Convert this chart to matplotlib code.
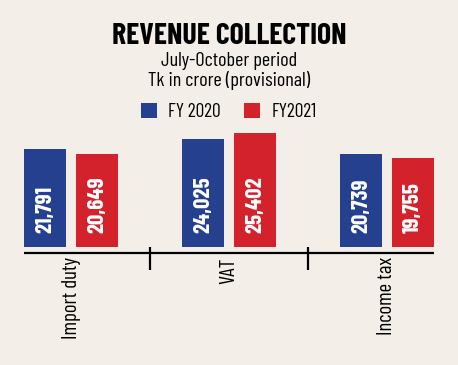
import matplotlib.pyplot as plt
import numpy as np

# data
categories = ["Import duty", "VAT", "Income tax"]
fy2020 = [21791, 24025, 20739]
fy2021 = [20649, 25402, 19755]
series_names = ["FY 2020", "FY2021"]

blue = "#24408f"
red = "#d3222c"
bg = "#f3efe8"
narrow = ["Barlow Condensed", "DejaVu Sans"]
st = "condensed"

W, H = 458, 365
fig = plt.figure(figsize=(W / 100, H / 100), dpi=100, facecolor=bg)

# axes placed in pixel terms: x 24..434, y 125..275
px = 1 / W
py = 1 / H
ax = fig.add_axes([24 * px, 1 - 275 * py, 410 * px, 150 * py])
ax.set_facecolor(bg)

scale = 97.7 / 21791  # pixels per unit
ax.set_xlim(-0.2975, 2.2975)
ax.set_ylim(-(275 - 247) / scale, (247 - 125) / scale)

x = np.arange(len(categories))
off = 26 / 158
bw = 42 / 158
b1 = ax.bar(x - off, fy2020, bw, color=blue)
b2 = ax.bar(x + off, fy2021, bw, color=red)

for bars, vals in ((b1, fy2020), (b2, fy2021)):
    for b, v in zip(bars, vals):
        ax.text(b.get_x() + b.get_width() / 2, 14 / scale, f"{v:,}",
                rotation=90, ha="center", va="bottom", color="white",
                fontsize=16.5, fontweight="bold", family=narrow,
                fontstretch=st)

# axis line and separators
line_y = -6 / scale
ax.axhline(line_y, color="black", lw=1.6)
ax.vlines([0.5, 1.5], -23 / scale, 0, color="black", lw=1.6)

for i, c in enumerate(categories):
    ax.text(i, -10 / scale, c, rotation=90, ha="center", va="top",
            fontsize=15, family=narrow, fontstretch=st)

ax.axis("off")

# titles
fig.text(0.5, 1 - 36 * py, "REVENUE COLLECTION", ha="center", va="center",
         fontsize=21.5, fontweight="bold", family=narrow, fontstretch=st)
fig.text(0.5, 1 - 61 * py, "July-October period", ha="center", va="center",
         fontsize=14.5, family=narrow, fontstretch=st)
fig.text(0.5, 1 - 81 * py, "Tk in crore (provisional)", ha="center",
         va="center", fontsize=14.5, family=narrow, fontstretch=st)

# legend
leg = ax.legend([b1, b2], series_names, loc="center", ncol=2,
                bbox_to_anchor=(0.5, 1 - 112 * py), bbox_transform=fig.transFigure,
                frameon=False, handlelength=0.8, handleheight=0.8,
                handletextpad=0.6, columnspacing=1.2,
                prop={"family": narrow, "size": 14, "stretch": st})

fig.savefig("out.png", dpi=100, facecolor=bg)
